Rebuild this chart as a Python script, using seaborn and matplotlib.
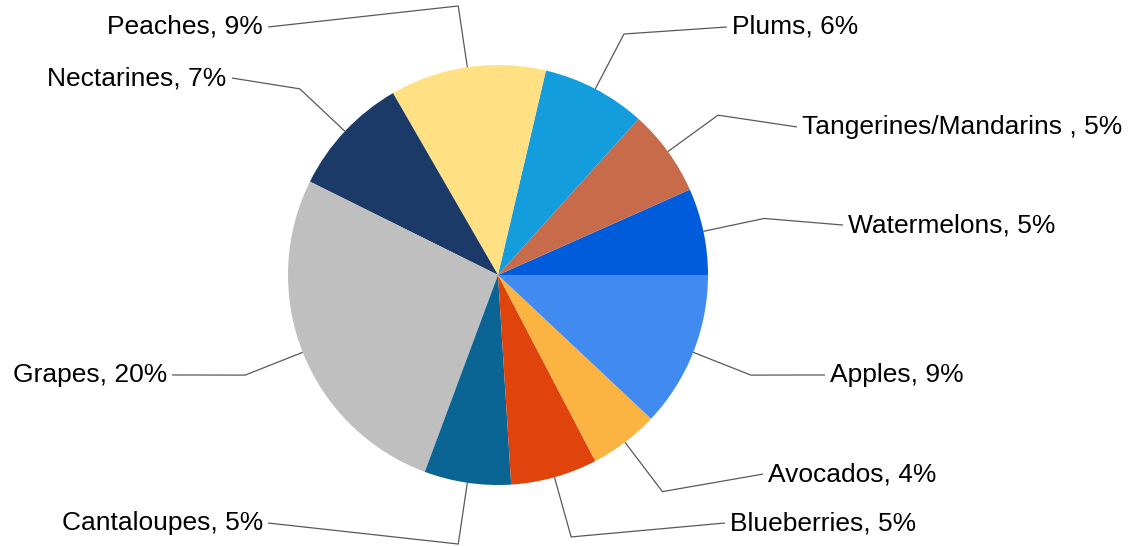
import numpy as np
import matplotlib
matplotlib.use("Agg")
import matplotlib.pyplot as plt
import seaborn as sns

# -----------------------------
# Data
# -----------------------------
fruits = ["Watermelons", "Tangerines/Mandarins ", "Plums", "Peaches", "Nectarines",
          "Grapes", "Cantaloupes", "Blueberries", "Avocados", "Apples"]
shares = [5, 5, 6, 9, 7, 20, 5, 5, 4, 9]
colors = ["#015CDB", "#C86B4B", "#139DDD", "#FFE083", "#1B3A68",
          "#BFBFBF", "#0A6494", "#E0430B", "#FBB342", "#418BF0"]

# label anchor (end of leader line), in pie-radius units
label_x = [1.643, 1.424, 1.090, -1.095, -1.267, -1.552, -1.095, 1.081, 1.262, 1.557]
label_y = [0.238, 0.705, 1.181, 1.181, 0.938, -0.476, -1.181, -1.181, -0.948, -0.476]

# -----------------------------
# Plot
# -----------------------------
sns.set_theme(style="white")
plt.rcParams["font.family"] = ["Liberation Sans", "DejaVu Sans"]

fig = plt.figure(figsize=(11.39, 5.46), dpi=100)
ax = fig.add_axes([0, 0, 1, 1])

wedges, _ = ax.pie(
    shares,
    colors=colors,
    startangle=0,
    counterclock=True,
    radius=1.0,
    wedgeprops=dict(linewidth=0),
)

# leader lines + labels
for w, name, val, lx, ly in zip(wedges, fruits, shares, label_x, label_y):
    mid = np.deg2rad((w.theta1 + w.theta2) / 2)
    x0, y0 = np.cos(mid), np.sin(mid)
    ex, ey = 1.295 * x0, 1.295 * y0
    ax.plot([x0, ex, lx], [y0, ey, ly], color="#595959", lw=0.9,
            solid_capstyle="butt")
    ha = "left" if lx > 0 else "right"
    off = 0.025 if lx > 0 else -0.025
    ax.text(lx + off, ly, f"{name}, {val}%", ha=ha, va="center",
            fontsize=19, color="black")

ax.set_xlim(-498 / 210, (1139 - 498) / 210)
ax.set_ylim(-(546 - 275) / 210, 275 / 210)
ax.set_aspect("auto")
ax.axis("off")

plt.savefig("out.png", dpi=100)
plt.close()
